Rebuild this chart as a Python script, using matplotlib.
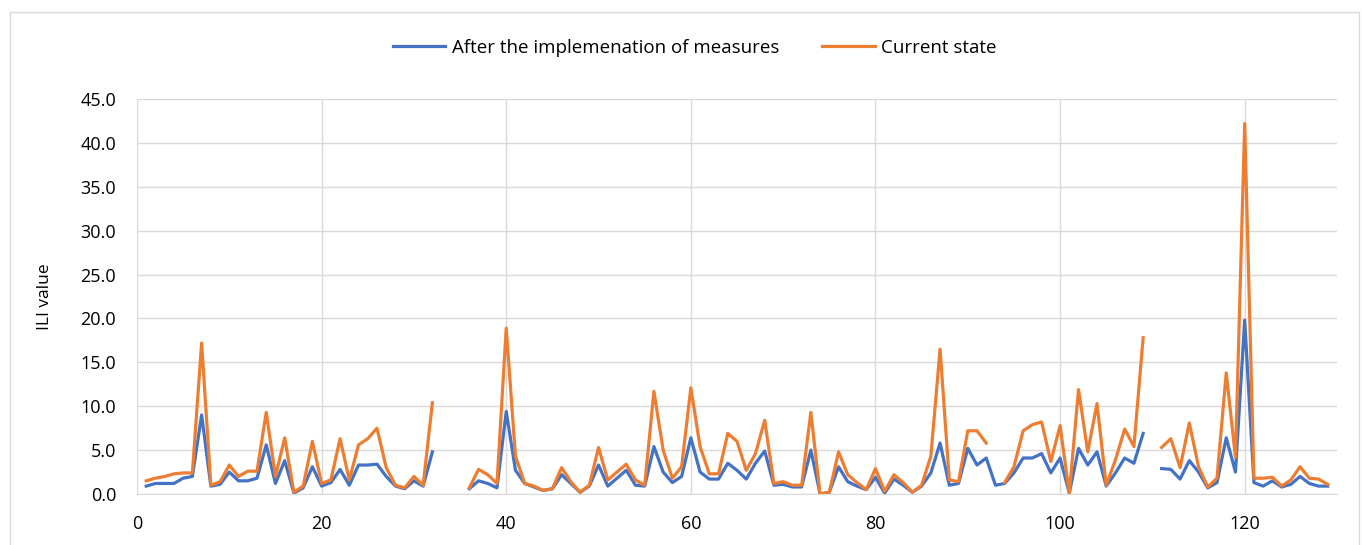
import numpy as np
import matplotlib
matplotlib.use("Agg")
import matplotlib.pyplot as plt
from matplotlib.patches import Rectangle

nan = np.nan

# x positions 1..129
days = list(range(1, 130))

# "After the implemenation of measures"
after = [
    0.9, 1.2, 1.2, 1.2, 1.8, 2.0, 9.0, 0.9, 1.1, 2.5,      # 1-10
    1.5, 1.5, 1.8, 5.6, 1.2, 3.8, 0.1, 0.7, 3.1, 0.9,      # 11-20
    1.3, 2.8, 1.0, 3.3, 3.3, 3.4, 2.0, 0.9, 0.6, 1.5,      # 21-30
    0.9, 4.8, nan, nan, nan, 0.6, 1.5, 1.2, 0.7, 9.4,      # 31-40
    2.7, 1.2, 0.8, 0.4, 0.6, 2.2, 1.2, 0.2, 0.9, 3.3,      # 41-50
    0.9, 1.8, 2.7, 1.0, 0.9, 5.4, 2.5, 1.3, 2.0, 6.4,      # 51-60
    2.5, 1.7, 1.7, 3.5, 2.7, 1.7, 3.5, 4.9, 1.0, 1.1,      # 61-70
    0.8, 0.8, 5.0, 0.0, 0.2, 3.1, 1.4, 0.9, 0.5, 1.9,      # 71-80
    0.1, 1.7, 1.0, 0.2, 0.9, 2.4, 5.8, 1.0, 1.2, 5.2,      # 81-90
    3.3, 4.1, 1.0, 1.2, 2.4, 4.1, 4.1, 4.6, 2.4, 4.1,      # 91-100
    0.1, 5.2, 3.3, 4.8, 0.9, 2.4, 4.1, 3.5, 6.9, nan,      # 101-110
    2.9, 2.8, 1.7, 3.8, 2.5, 0.7, 1.3, 6.4, 2.5, 19.8,     # 111-120
    1.3, 0.9, 1.5, 0.8, 1.1, 2.0, 1.2, 0.9, 0.9,           # 121-129
]

# "Current state"
current = [
    1.5, 1.8, 2.0, 2.3, 2.4, 2.4, 17.2, 1.0, 1.4, 3.3,     # 1-10
    2.0, 2.6, 2.6, 9.3, 2.0, 6.4, 0.2, 0.9, 6.0, 1.2,      # 11-20
    1.6, 6.3, 1.6, 5.6, 6.3, 7.5, 3.0, 1.0, 0.7, 2.0,      # 21-30
    1.0, 10.4, nan, nan, nan, 0.7, 2.8, 2.2, 1.2, 18.9,    # 31-40
    4.3, 1.2, 0.9, 0.4, 0.6, 3.0, 1.4, 0.2, 1.0, 5.3,      # 41-50
    1.6, 2.5, 3.4, 1.6, 1.0, 11.7, 5.0, 1.8, 3.1, 12.1,    # 51-60
    5.4, 2.3, 2.3, 6.9, 6.0, 2.7, 4.6, 8.4, 1.2, 1.4,      # 61-70
    1.0, 1.0, 9.3, 0.0, 0.2, 4.8, 2.2, 1.3, 0.5, 2.9,      # 71-80
    0.3, 2.2, 1.3, 0.2, 1.0, 4.3, 16.5, 1.6, 1.4, 7.2,     # 81-90
    7.2, 5.8, nan, 1.3, 3.1, 7.2, 7.9, 8.2, 3.7, 7.8,      # 91-100
    0.1, 11.9, 4.8, 10.3, 1.0, 3.9, 7.4, 5.4, 17.8, nan,   # 101-110
    5.3, 6.3, 3.0, 8.1, 3.1, 0.8, 1.8, 13.8, 4.2, 42.2,    # 111-120
    1.8, 1.8, 1.9, 0.9, 1.6, 3.1, 1.8, 1.7, 1.1,           # 121-129
]

fig = plt.figure(figsize=(13.62, 5.45), dpi=100)
plt.rcParams['font.family'] = ['Open Sans', 'DejaVu Sans']

# chart area border
fig.patches.append(Rectangle((10 / 1362, -0.01), 1349 / 1362, 533 / 545 + 0.01,
                             transform=fig.transFigure, fill=False,
                             edgecolor='#D9D9D9', linewidth=1.0))

ax = fig.add_axes([137 / 1362, 51 / 545, 1200 / 1362, 395 / 545])

ax.plot(days, after, color='#4472C4', linewidth=2.3,
        label='After the implemenation of measures')
ax.plot(days, current, color='#ED7D31', linewidth=2.3, label='Current state')

ax.set_xlim(0, 130)
ax.set_ylim(0, 45)
ax.set_xticks(range(0, 121, 20))
ax.set_yticks(np.arange(0, 45.1, 5))
ax.yaxis.set_major_formatter(matplotlib.ticker.FormatStrFormatter('%.1f'))
ax.grid(True, color='#D9D9D9', linewidth=1.0)
ax.set_axisbelow(True)
for s in ['top', 'right', 'left']:
    ax.spines[s].set_visible(False)
ax.spines['bottom'].set_color('#D9D9D9')
ax.tick_params(length=0, labelsize=13, colors='black')
ax.tick_params(axis='y', pad=15)
ax.tick_params(axis='x', pad=15)
ax.set_ylabel('ILI value', fontsize=12.5, labelpad=20)

fig.legend(*ax.get_legend_handles_labels(), loc='center',
           bbox_to_anchor=(0.51, 0.912), ncol=2, frameon=False,
           fontsize=13.5, handlelength=2.8, columnspacing=2.3,
           handletextpad=0.35)

fig.savefig('out.png', dpi=100)
